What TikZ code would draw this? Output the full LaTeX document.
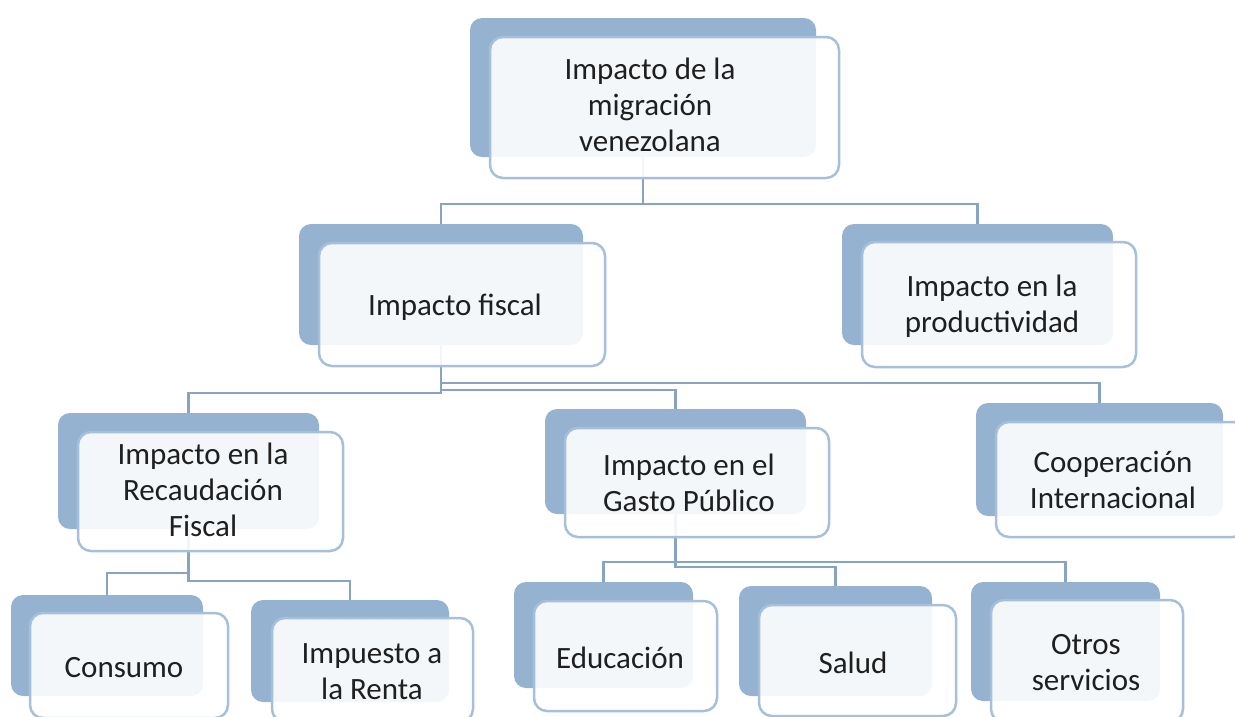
\documentclass[tikz,border=0pt]{standalone}
\usepackage{fontspec}
\setmainfont{Carlito}
\usepackage{tikz}
\usetikzlibrary{arrows,shapes}
\pgfdeclarelayer{background}
\pgfsetlayers{background,main}
\definecolor{backblue}{HTML}{95B3D1}
\definecolor{edgeblue}{HTML}{A6C0DB}
\definecolor{lineblue}{HTML}{87A5C3}

\begin{document}
\begin{tikzpicture}[x=1pt,y=-1pt]
                \tikzstyle{back}=[rectangle,rounded corners=12pt,fill=backblue,inner sep=0pt]
                \tikzstyle{front}=[rectangle,rounded corners=13pt,draw=edgeblue,line width=2.5pt,fill=white,fill opacity=0.9,inner sep=0pt]
                \tikzstyle{label}=[align=center,inner sep=0pt,text=black!88,font=\fontsize{31}{36}\selectfont]
                \tikzstyle{link}=[draw=lineblue,line width=2.6pt]
                
                \useasboundingbox (0,0) rectangle (1235,716);
                
                % back boxes
                \node[back,minimum width=346pt,minimum height=139pt] (migb) at (643,87.5) {};
                \node[back,minimum width=284pt,minimum height=121pt] (fisb) at (441,284.5) {};
                \node[back,minimum width=271pt,minimum height=121pt] (prodb) at (977.5,284.5) {};
                \node[back,minimum width=261pt,minimum height=116pt] (recb) at (188.5,471) {};
                \node[back,minimum width=261pt,minimum height=105pt] (gasb) at (675.5,461.5) {};
                \node[back,minimum width=247pt,minimum height=113pt] (coopb) at (1099.5,459.5) {};
                \node[back,minimum width=192pt,minimum height=101pt] (consb) at (107,645.5) {};
                \node[back,minimum width=198pt,minimum height=102pt] (impb) at (350,651) {};
                \node[back,minimum width=179pt,minimum height=106pt] (edub) at (603.5,635) {};
                \node[back,minimum width=193pt,minimum height=110pt] (salb) at (835.5,641) {};
                \node[back,minimum width=189pt,minimum height=119pt] (otrb) at (1065.5,641.5) {};
                
                % front boxes
                \node[front,minimum width=349pt,minimum height=141pt] (mig) at (664.5,107.5) {};
                \node[front,minimum width=286pt,minimum height=123pt] (fis) at (462,304.5) {};
                \node[front,minimum width=274pt,minimum height=125pt] (prod) at (999,304.5) {};
                \node[front,minimum width=265pt,minimum height=119pt] (rec) at (210.5,491.5) {};
                \node[front,minimum width=264pt,minimum height=109pt] (gas) at (697,482.5) {};
                \node[front,minimum width=250pt,minimum height=115pt] (coop) at (1121,479.5) {};
                \node[front,minimum width=198pt,minimum height=105pt] (cons) at (129,665.5) {};
                \node[front,minimum width=201pt,minimum height=104pt] (imp) at (372.5,670) {};
                \node[front,minimum width=183pt,minimum height=110pt] (edu) at (625.5,656) {};
                \node[front,minimum width=197pt,minimum height=111pt] (sal) at (857.5,660.5) {};
                \node[front,minimum width=192pt,minimum height=122pt] (otr) at (1087,661) {};
                
                % texts
                \node[label] (migt) at (650,105) {Impacto de la\\migración\\venezolana};
                \node[label] (fist) at (455,307) {Impacto fiscal};
                \node[label] (prodt) at (992,306) {Impacto en la\\productividad};
                \node[label] (rect) at (203,490) {Impacto en la\\Recaudación\\Fiscal};
                \node[label] (gast) at (689,483) {Impacto en el\\Gasto Público};
                \node[label] (coopt) at (1113,480) {Cooperación\\Internacional};
                \node[label] (const) at (124,668) {Consumo};
                \node[label] (impt) at (372,672) {Impuesto a\\la Renta};
                \node[label] (edut) at (620,658) {Educación};
                \node[label] (salt) at (853,663) {Salud};
                \node[label] (otrt) at (1086,663) {Otros\\servicios};
                
                % connectors
                \begin{pgfonlayer}{background}
                \draw[link] (migb.south) -- (migb.south |- 0,204) -| (fisb.north);
                \draw[link] (migb.south) -- (migb.south |- 0,204) -| (prodb.north);
                \draw[link] (fisb.south) -- (fisb.south |- 0,393) -| (recb.north);
                \draw[link] (fisb.south) -- (fisb.south |- 0,390) -| (gasb.north);
                \draw[link] (fisb.south) -- (fisb.south |- 0,383) -| (coopb.north);
                \draw[link] (recb.south) -- (recb.south |- 0,573) -| (consb.north);
                \draw[link] (recb.south) -- (recb.south |- 0,581) -| (impb.north);
                \draw[link] (gasb.south) -- (gasb.south |- 0,562) -| (edub.north);
                \draw[link] (gasb.south) -- (gasb.south |- 0,567) -| (salb.north);
                \draw[link] (gasb.south) -- (gasb.south |- 0,562) -| (otrb.north);
                \end{pgfonlayer}
\end{tikzpicture}
\end{document}
